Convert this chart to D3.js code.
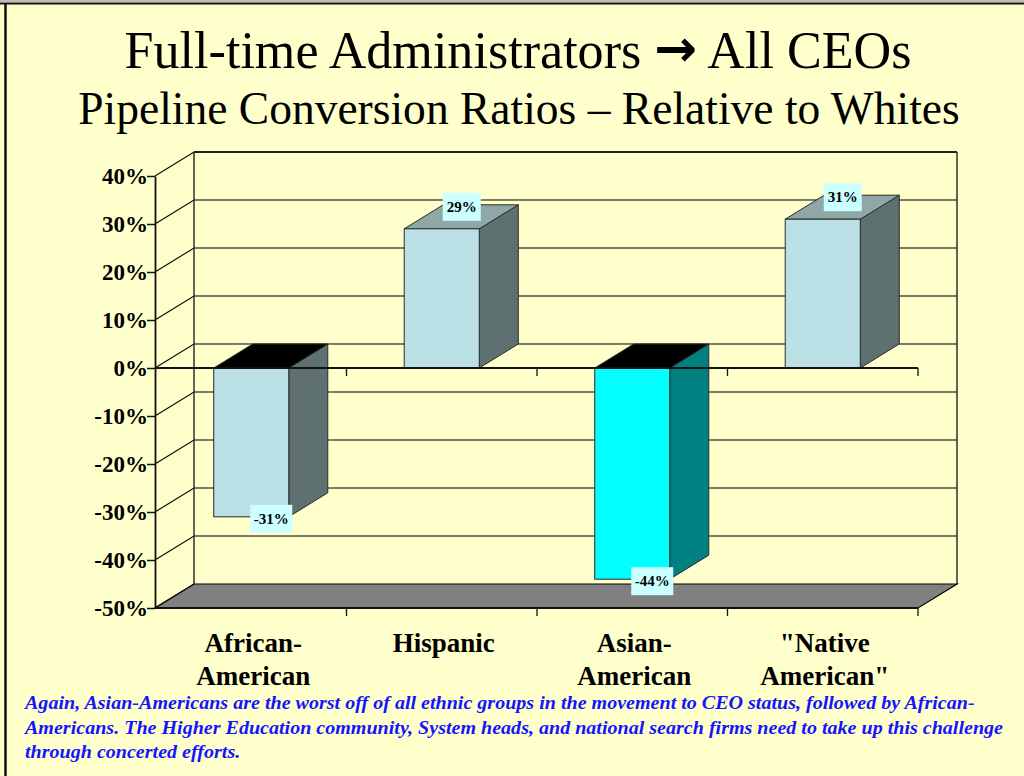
<!DOCTYPE html>
<html><head><meta charset="utf-8">
<script src="https://cdn.jsdelivr.net/npm/d3@7"></script>
<style>
html,body{margin:0;padding:0;background:#ffffcc;}
svg{display:block;}
svg text, svg tspan{font-family:"Liberation Serif","Times New Roman",Times,serif;}
svg tspan.arrow{font-family:"DejaVu Sans",sans-serif;}
</style></head>
<body>
<svg id="c" width="1024" height="776"></svg>
<script>
const categories = ["African-American", "Hispanic", "Asian-American", "\"Native American\""];
const categoryLines = [["African-", "American"], ["Hispanic"], ["Asian-", "American"], ["\"Native", "American\""]];
const values = [-31, 29, -44, 31];
const valueLabels = ["-31%", "29%", "-44%", "31%"];
const highlighted = [false, false, true, false];
const yTicks = [40, 30, 20, 10, 0, -10, -20, -30, -40, -50];
const titleLine1 = "Full-time Administrators";
const titleArrow = "\u2192";
const titleLine1b = "All CEOs";
const titleLine2 = "Pipeline Conversion Ratios \u2013 Relative to Whites";
const noteLines = [
  "Again, Asian-Americans are the worst off of all ethnic groups in the movement to CEO status, followed by African-",
  "Americans.  The Higher Education community, System heads, and national search firms need to take up this challenge",
  "through concerted efforts."
];

const svg = d3.select("#c");

// background & frame (top and left edges)
svg.append("rect").attr("x",0).attr("y",0).attr("width",1024).attr("height",776).attr("fill","#ffffcc");
svg.append("line").attr("x1",0).attr("x2",1024).attr("y1",1).attr("y2",1).attr("stroke","#bbbbbb").attr("stroke-width",2);
svg.append("line").attr("x1",0).attr("x2",1024).attr("y1",3.5).attr("y2",3.5).attr("stroke","#111").attr("stroke-width",2);
svg.append("line").attr("x1",5.5).attr("x2",5.5).attr("y1",3).attr("y2",776).attr("stroke","#111").attr("stroke-width",2.5);

// titles
const t1 = svg.append("text").attr("x",518).attr("y",68).attr("text-anchor","middle")
  .attr("font-size",51).attr("fill","#000");
t1.append("tspan").text(titleLine1 + " ");
t1.append("tspan").attr("class","arrow").attr("font-weight","bold").attr("font-size",50).attr("dy",-2).text(titleArrow);
t1.append("tspan").attr("dy",2).text(" " + titleLine1b);
const t2 = svg.append("text").attr("x",519).attr("y",124).attr("text-anchor","middle")
  .attr("font-size",42).attr("fill","#000").text(titleLine2);
[[t1, 787], [t2, 882]].forEach(([t, w]) => {
  const L = t.node().getComputedTextLength();
  const k = w / L;
  t.attr("font-size", +t.attr("font-size") * k);
  t.selectAll("tspan.arrow").attr("font-size", function(){ return +d3.select(this).attr("font-size") * k; });
});

// geometry
const dx = 39, dy = -24;
const x = d3.scaleBand().domain(categories).range([156, 918]).paddingInner(0.606).paddingOuter(0.303);
const y = d3.scaleLinear().domain([-50, 40]).range([608, 176]);
const xl = 155, xr = 918;

const g = svg.append("g");

// floor
const yb = y(-50);
g.append("path")
  .attr("d", `M${xl},${yb}L${xr},${yb}L${xr+dx},${yb+dy}L${xl+dx},${yb+dy}Z`)
  .attr("fill","#808080").attr("stroke","#000").attr("stroke-width",1.2);

// back wall gridlines and left wall diagonals
const gridColor = "#55533f";
yTicks.forEach(t => {
  const yy = y(t);
  if (t > -50) {
    g.append("line").attr("x1",xl+dx).attr("x2",xr+dx).attr("y1",yy+dy).attr("y2",yy+dy)
      .attr("stroke", t===40 ? "#222" : gridColor).attr("stroke-width", t===40 ? 1.8 : 1.5);
  }
  g.append("line").attr("x1",xl).attr("y1",yy).attr("x2",xl+dx).attr("y2",yy+dy)
    .attr("stroke","#111").attr("stroke-width",1.2);
});
g.append("line").attr("x1",xl+dx).attr("x2",xl+dx).attr("y1",y(40)+dy).attr("y2",y(-50)+dy).attr("stroke","#222").attr("stroke-width",1.4);
g.append("line").attr("x1",xr+dx).attr("x2",xr+dx).attr("y1",y(40)+dy).attr("y2",y(-50)+dy).attr("stroke","#222").attr("stroke-width",1.4);

// bars
const bars = categories.map((c,i)=>({c, v: values[i], hl: highlighted[i], label: valueLabels[i]}));
bars.forEach(b => {
  const x0 = x(b.c), x1 = x0 + x.bandwidth();
  const yTop = y(Math.max(0, b.v)), yBot = y(Math.min(0, b.v));
  const front = b.hl ? "#00ffff" : "#badfe4";
  const side = b.hl ? "#008080" : "#5e7070";
  const top = b.v < 0 ? "#000000" : "#8fa7a7";
  const stroke = "#2a2a2a";
  g.append("path").attr("d",`M${x1},${yTop}L${x1+dx},${yTop+dy}L${x1+dx},${yBot+dy}L${x1},${yBot}Z`)
    .attr("fill",side).attr("stroke",stroke).attr("stroke-width",1);
  g.append("path").attr("d",`M${x0},${yTop}L${x0+dx},${yTop+dy}L${x1+dx},${yTop+dy}L${x1},${yTop}Z`)
    .attr("fill",top).attr("stroke",stroke).attr("stroke-width",1);
  g.append("rect").attr("x",x0).attr("y",yTop).attr("width",x1-x0).attr("height",yBot-yTop)
    .attr("fill",front).attr("stroke",stroke).attr("stroke-width",1);
});

// zero line on front plane with category ticks
const boundaries = categories.map(c => x(c) - x.step()*x.paddingInner()/2 + x.step());
g.append("line").attr("x1",xl).attr("x2",xr).attr("y1",y(0)).attr("y2",y(0)).attr("stroke","#111").attr("stroke-width",1.8);
boundaries.forEach(xx => g.append("line").attr("x1",xx).attr("x2",xx).attr("y1",y(0)).attr("y2",y(0)+8).attr("stroke","#111").attr("stroke-width",1.3));
g.append("line").attr("x1",xl).attr("x2",xr).attr("y1",y(-50)).attr("y2",y(-50)).attr("stroke","#111").attr("stroke-width",1.8);
boundaries.forEach(xx => g.append("line").attr("x1",xx).attr("x2",xx).attr("y1",y(-50)).attr("y2",y(-50)+8).attr("stroke","#111").attr("stroke-width",1.3));

// left axis
const axis = d3.axisLeft(y).tickValues(yTicks).tickFormat(d => d + "%").tickSize(8).tickSizeOuter(0);
const ag = svg.append("g").attr("transform",`translate(${xl},0)`).call(axis);
ag.attr("font-family", null).attr("font-size", null);
ag.select(".domain").attr("stroke","#111").attr("stroke-width",1.8);
ag.selectAll(".tick line").attr("stroke","#111").attr("stroke-width",1.5);
ag.selectAll(".tick text").attr("font-size",23).attr("font-weight","bold")
  .attr("fill","#000").attr("x",-7);

// value labels
bars.forEach(b => {
  const cx = x(b.c) + x.bandwidth()/2 + 20;
  const cy = b.v >= 0 ? y(b.v) - 22 : y(b.v) + 2;
  const w = b.label.length > 3 ? 42 : 38, h = 28;
  svg.append("rect").attr("x",cx-w/2).attr("y",cy-h/2).attr("width",w).attr("height",h).attr("fill","#ccffff");
  svg.append("text").attr("x",cx).attr("y",cy+5).attr("text-anchor","middle")
    .attr("font-weight","bold").attr("font-size",15).attr("fill","#000").text(b.label);
});

// category labels
categories.forEach((c,i) => {
  const cx = x(c) + x.bandwidth()/2 + 2;
  const tx = svg.append("text").attr("text-anchor","middle")
    .attr("font-weight","bold").attr("font-size",27).attr("fill","#000");
  categoryLines[i].forEach((ln,j) => {
    tx.append("tspan").attr("x",cx).attr("y",652 + j*33).text(ln);
  });
});

// note
const noteEls = noteLines.map((ln,i) => svg.append("text").attr("x",25).attr("y",709 + i*24.5)
  .attr("font-weight","bold").attr("font-style","italic")
  .attr("font-size",19).attr("fill","#1414ff").text(ln));
const nat = noteEls[1].node().getComputedTextLength();
const ratio = (1003 - 25) / nat;
noteEls.forEach(el => {
  const L = el.node().getComputedTextLength();
  el.attr("textLength", L*ratio).attr("lengthAdjust","spacingAndGlyphs");
});
</script>
</body></html>
